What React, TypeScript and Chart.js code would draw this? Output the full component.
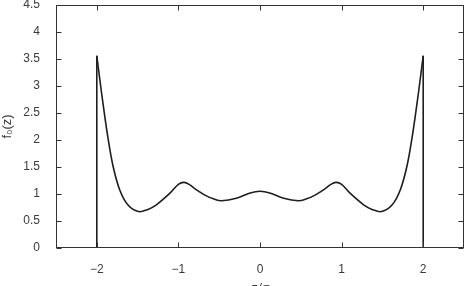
import React, { useEffect, useRef } from "react";
import { Chart, registerables } from "chart.js";

Chart.register(...registerables);

// Structure function curve f0(z) vs z/sigma
const curveZ = [-2.0, -1.963, -1.92, -1.86, -1.8, -1.72, -1.62, -1.49, -1.38, -1.27, -1.1, -1.0, -0.93, -0.86, -0.8, -0.675, -0.57, -0.47, -0.29, -0.12, 0, 0.12, 0.29, 0.47, 0.57, 0.675, 0.8, 0.86, 0.93, 1.0, 1.1, 1.27, 1.38, 1.49, 1.62, 1.72, 1.8, 1.86, 1.92, 1.963, 2.0];
const curveF = [3.56, 3.12, 2.63, 2.01, 1.51, 1.08, 0.8, 0.675, 0.71, 0.8, 1.02, 1.18, 1.215, 1.17, 1.1, 0.98, 0.91, 0.875, 0.92, 1.02, 1.05, 1.02, 0.92, 0.875, 0.91, 0.98, 1.1, 1.17, 1.215, 1.18, 1.02, 0.8, 0.71, 0.675, 0.8, 1.08, 1.51, 2.01, 2.63, 3.12, 3.56];
// walls at |z| = 2 and zero outside
const wallZ = [-2.5, -2.0, -2.0, NaN, 2.0, 2.0, 2.5];
const wallF = [0, 0, 3.56, null, 3.56, 0, 0];

const xTicks = [-2, -1, 0, 1, 2];
const yTicks = [0, 0.5, 1, 1.5, 2, 2.5, 3, 3.5, 4, 4.5];

const LINE = "#1e1e1e";
const TEXT = "#3a3a3a";
const FONT = "'Liberation Sans', Arial, sans-serif";

const framePlugin = {
  id: "frame",
  afterDraw(chart: any) {
    const { ctx, chartArea, scales } = chart;
    const { left, right, top, bottom } = chartArea;
    const xs = scales.x;
    const ys = scales.y;
    ctx.save();
    ctx.strokeStyle = "#333";
    ctx.lineWidth = 1;
    const l = Math.round(left) + 0.5;
    const r = Math.round(right) - 0.5;
    const t = Math.round(top) + 0.5;
    const b = Math.round(bottom) - 0.5;
    ctx.strokeRect(l, t, r - l, b - t);
    const len = 5;
    ctx.beginPath();
    xTicks.forEach((v) => {
      const px = Math.round(xs.getPixelForValue(v)) + 0.5;
      ctx.moveTo(px, b);
      ctx.lineTo(px, b - len);
      ctx.moveTo(px, t);
      ctx.lineTo(px, t + len);
    });
    yTicks.forEach((v) => {
      const py = Math.round(ys.getPixelForValue(v)) + 0.5;
      ctx.moveTo(l, py);
      ctx.lineTo(l + len, py);
      ctx.moveTo(r, py);
      ctx.lineTo(r - len, py);
    });
    ctx.stroke();
    ctx.restore();
  },
};

export default function App() {
  const ref = useRef<HTMLCanvasElement>(null);
  useEffect(() => {
    document.body.style.margin = "0";
    document.body.style.overflow = "hidden";
    const chart = new Chart(ref.current!, {
      type: "line",
      data: {
        datasets: [
          {
            data: wallZ.map((z, i) => ({ x: z, y: wallF[i] })) as any,
            borderColor: LINE,
            borderWidth: 1.6,
            pointRadius: 0,
            tension: 0,
            spanGaps: false,
          },
          {
            data: curveZ.map((z, i) => ({ x: z, y: curveF[i] })),
            borderColor: LINE,
            borderWidth: 1.6,
            pointRadius: 0,
            tension: 0.35,
          },
        ],
      },
      options: {
        animation: false,
        responsive: false,
        maintainAspectRatio: false,
        layout: { padding: { top: 5, right: 5, left: 0, bottom: 0 } },
        plugins: { legend: { display: false }, tooltip: { enabled: false } },
        scales: {
          x: {
            type: "linear",
            min: -2.5,
            max: 2.5,
            afterBuildTicks: (s: any) => {
              s.ticks = xTicks.map((v) => ({ value: v }));
            },
            afterFit: (s: any) => {
              s.height = 48;
              s.paddingLeft = 0;
              s.paddingRight = 0;
            },
            grid: { display: false },
            border: { display: false },
            ticks: {
              color: TEXT,
              font: { family: FONT, size: 12 },
              padding: 6,
              callback: (v: any) => String(v).replace("-", "\u2212"),
            },
            title: {
              display: true,
              text: "z/\u03c3",
              color: TEXT,
              font: { family: FONT, size: 13, style: "italic" },
              padding: { top: 6, bottom: 0 },
            },
          },
          y: {
            type: "linear",
            min: 0,
            max: 4.5,
            afterBuildTicks: (s: any) => {
              s.ticks = yTicks.map((v) => ({ value: v }));
            },
            afterFit: (s: any) => {
              s.width = 56;
              s.paddingTop = 0;
              s.paddingBottom = 0;
            },
            grid: { display: false },
            border: { display: false },
            ticks: {
              color: TEXT,
              font: { family: FONT, size: 12 },
              padding: 8,
              callback: (v: any) => String(v),
            },
            title: {
              display: true,
              text: "f\u2080(z)",
              color: TEXT,
              font: { family: FONT, size: 13 },
              padding: { top: 0, bottom: 4 },
            },
          },
        },
      },
      plugins: [framePlugin],
    });
    return () => chart.destroy();
  }, []);
  return (
    <div style={{ position: "absolute", left: 0, top: 0, width: 469, height: 296 }}>
      <canvas ref={ref} width={469} height={296} />
    </div>
  );
}
